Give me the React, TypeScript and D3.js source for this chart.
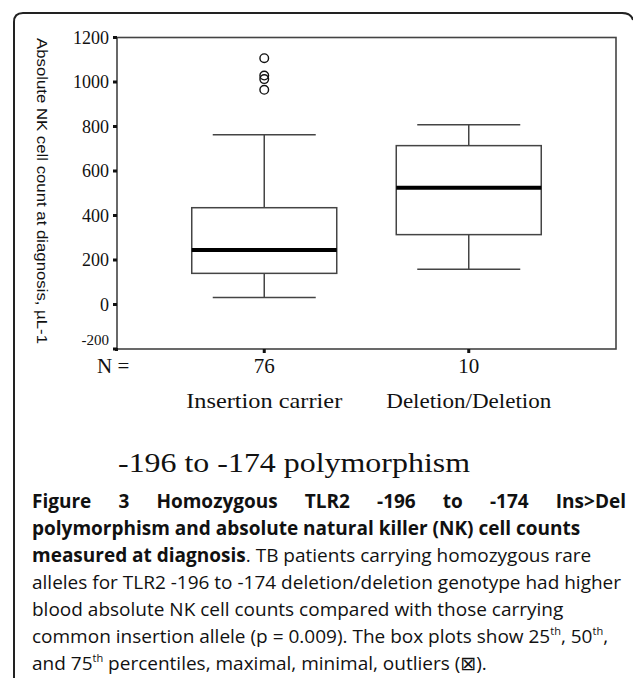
import { useEffect, useRef } from "react";
import * as d3 from "d3";

// box plot summary values
const categories = ["Insertion carrier", "Deletion/Deletion"];
const counts = [76, 10];
const lowerWhisker = [31, 158];
const q1 = [140, 314];
const median = [245, 525];
const q3 = [435, 714];
const upperWhisker = [763, 808];
const outliers = [[1107, 1029, 1013, 965], []];
const yTicks = [-200, 0, 200, 400, 600, 800, 1000, 1200];

const captionLines = [
  "alleles for TLR2 -196 to -174 deletion/deletion genotype had higher",
  "blood absolute NK cell counts compared with those carrying",
];

const App = () => {
  const firstLine = useRef<SVGTextElement | null>(null);

  const width = 633;
  const height = 678;
  const plot = { left: 117, right: 616, top: 37.5, bottom: 349 };

  const x = d3.scalePoint<string>()
    .domain(categories)
    .range([plot.left, plot.right])
    .padding(0.72);

  const y = d3.scaleLinear()
    .domain([-200, 1200])
    .range([plot.bottom, plot.top]);

  const boxW = 145;
  const capW = 103;
  const serif = "'Liberation Serif', 'Times New Roman', serif";
  const sans = "'Open Sans', 'Noto Sans', sans-serif";
  const line = "#444";

  const capFont = 19;
  const capX = 32;
  const capY0 = 508;
  const capDy = 27;

  // justify the first caption line by widening the word gaps only
  useEffect(() => {
    const el = firstLine.current;
    if (!el) return;
    el.setAttribute("word-spacing", "0");
    const natural = el.getComputedTextLength();
    const gaps = (el.textContent || "").trim().split(/\s+/).length - 1;
    el.setAttribute("word-spacing", String((594 - natural) / gaps));
  }, []);

  return (
    <svg width={width} height={height} style={{ position: "absolute", left: 0, top: 0, background: "#fff" }}>
      {/* outer figure frame */}
      <path d={`M14,${height + 5} L14,22 Q14,13 23,13 L622,13 Q631,13 633,20`} fill="none" stroke="#222" strokeWidth={2} />

      {/* plot frame */}
      <rect x={plot.left} y={plot.top} width={plot.right - plot.left} height={plot.bottom - plot.top}
        fill="none" stroke={line} strokeWidth={1.6} />

      {/* y axis ticks */}
      {yTicks.map(t => (
        <g key={t}>
          <rect x={plot.left - 4} y={y(t) - 1.5} width={4} height={3} fill="#111" />
          <text x={109} y={t === -200 ? y(t) - 9 : y(t)} dy="0.35em" textAnchor="end" fontFamily={serif}
            fontSize={t === -200 ? 15 : 18} fill="#111">{t}</text>
        </g>
      ))}

      {/* y label */}
      <text transform={`translate(37,38) rotate(90)`} fontFamily="'Liberation Sans', Arial, sans-serif" fontSize={15.5} fill="#111"
        textLength={306} lengthAdjust="spacingAndGlyphs">
        Absolute NK cell count at diagnosis, µL-1
      </text>

      {/* boxes */}
      {categories.map((c, i) => {
        const cx = x(c) as number;
        return (
          <g key={c}>
            <line x1={cx} x2={cx} y1={y(upperWhisker[i])} y2={y(q3[i])} stroke={line} strokeWidth={1.5} />
            <line x1={cx} x2={cx} y1={y(q1[i])} y2={y(lowerWhisker[i])} stroke={line} strokeWidth={1.5} />
            <line x1={cx - capW / 2} x2={cx + capW / 2} y1={y(upperWhisker[i])} y2={y(upperWhisker[i])} stroke={line} strokeWidth={1.5} />
            <line x1={cx - capW / 2} x2={cx + capW / 2} y1={y(lowerWhisker[i])} y2={y(lowerWhisker[i])} stroke={line} strokeWidth={1.5} />
            <rect x={cx - boxW / 2} y={y(q3[i])} width={boxW} height={y(q1[i]) - y(q3[i])} fill="#fff" stroke={line} strokeWidth={1.5} />
            <line x1={cx - boxW / 2} x2={cx + boxW / 2} y1={y(median[i])} y2={y(median[i])} stroke="#000" strokeWidth={4} />
            {outliers[i].map((v, j) => (
              <circle key={j} cx={cx} cy={y(v)} r={4.3} fill="none" stroke="#111" strokeWidth={1.4} />
            ))}
            {/* x tick */}
            <rect x={cx - 1.5} y={plot.bottom} width={3} height={4} fill="#111" />
            <text x={cx} y={373} textAnchor="middle" fontFamily={serif} fontSize={21} fill="#111">{counts[i]}</text>
            <text x={cx} y={408} textAnchor="middle" fontFamily={serif} fontSize={22} fill="#111"
              textLength={i === 0 ? 156 : 165} lengthAdjust="spacingAndGlyphs">{c}</text>
          </g>
        );
      })}
      <rect x={plot.left - 2} y={plot.bottom - 1} width={3} height={3} fill="#111" />
      <text x={97} y={373} fontFamily={serif} fontSize={21} fill="#111">N =</text>

      {/* x title */}
      <text x={118} y={472} fontFamily={serif} fontSize={28} fill="#111" textLength={352} lengthAdjust="spacingAndGlyphs">
        -196 to -174 polymorphism
      </text>

      {/* caption */}
      <g fontFamily={sans} fontSize={capFont} fill="#111">
        <text ref={firstLine} x={capX} y={capY0} fontWeight="bold">
          Figure 3 Homozygous TLR2 -196 to -174 Ins&gt;Del
        </text>
        <text x={capX} y={capY0 + capDy} fontWeight="bold">
          polymorphism and absolute natural killer (NK) cell counts
        </text>
        <text x={capX} y={capY0 + capDy * 2}>
          <tspan fontWeight="bold">measured at diagnosis</tspan>. TB patients carrying homozygous rare
        </text>
        {captionLines.map((l, k) => (
          <text key={k} x={capX} y={capY0 + capDy * (3 + k)}>{l}</text>
        ))}
        <text x={capX} y={capY0 + capDy * 5}>
          common insertion allele (p = 0.009). The box plots show 25<tspan fontSize={11} dy={-8}>th</tspan><tspan dy={8}>, 50</tspan><tspan fontSize={11} dy={-8}>th</tspan><tspan dy={8}>,</tspan>
        </text>
        <text x={capX} y={capY0 + capDy * 6}>
          and 75<tspan fontSize={11} dy={-8}>th</tspan><tspan dy={8}> percentiles, maximal, minimal, outliers (</tspan><tspan fontFamily="'DejaVu Sans', sans-serif">⊠</tspan>).
        </text>
      </g>
    </svg>
  );
};

export default App;
